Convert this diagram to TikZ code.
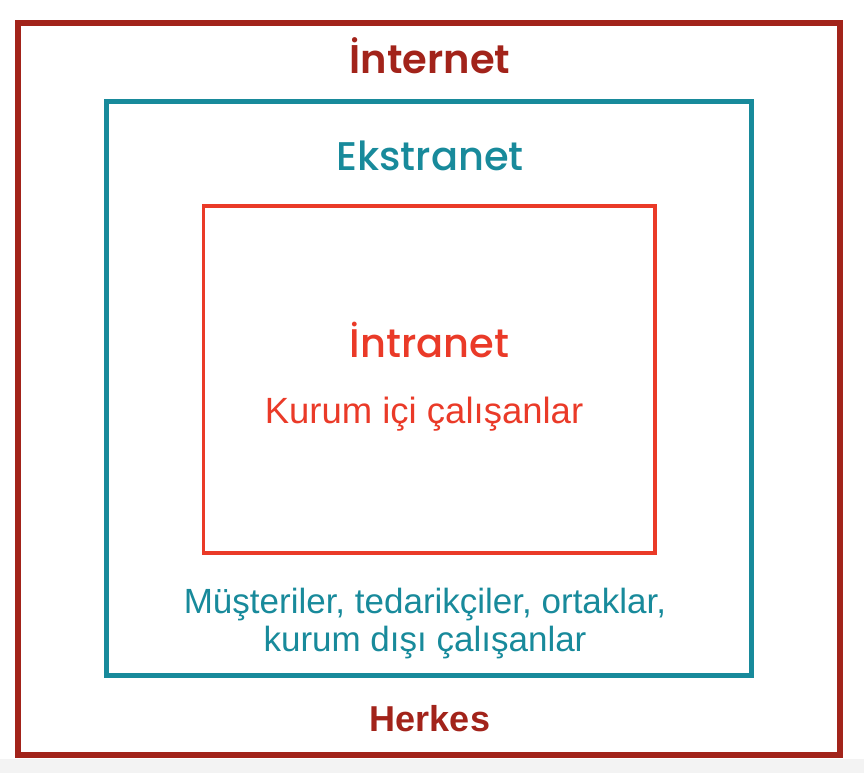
\documentclass[tikz,border=0pt]{standalone}
\usepackage{fontspec}
\setmainfont{Liberation Sans}
\newfontfamily\headfont{Poppins}[UprightFont=* Medium, BoldFont=* SemiBold]
\usetikzlibrary{positioning}

\definecolor{netred}{HTML}{A2231A}
\definecolor{extteal}{HTML}{188A9B}
\definecolor{intred}{HTML}{EA3A28}
\definecolor{stripgray}{HTML}{F3F3F3}

\begin{document}
\begin{tikzpicture}[x=1pt, y=-1pt,
    zone/.style={draw, rectangle, inner sep=0pt},
    title/.style={anchor=base, inner sep=0pt, font=\headfont\fontsize{40}{48}\selectfont},
    note/.style={anchor=base, inner sep=0pt, align=center, font=\fontsize{35}{38}\selectfont}]

  \useasboundingbox (0,0) rectangle (864,773);
  \fill[stripgray] (0,759) rectangle (864,773);

  % the three nested zones
  \node[zone, draw=netred, line width=6pt, minimum width=822pt, minimum height=731.5pt] (internet) at (429,388.75) {};
  \node[zone, draw=extteal, line width=5pt, minimum width=645pt, minimum height=574pt] (extranet) at (429,388.5) {};
  \node[zone, draw=intred, line width=3.5pt, minimum width=451.5pt, minimum height=347pt] (intranet) at (429.25,379.5) {};

  % titles
  \node[title, text=netred, font=\headfont\bfseries\fontsize{40}{48}\selectfont] (internettitle) at (430,74) {İnternet};
  \node[title, text=extteal] (extranettitle) at (430,170) {Ekstranet};
  \node[title, text=intred] (intranettitle) at (429.5,357) {İntranet};

  % who is in each zone
  \node[note, text=intred, font=\fontsize{36.5}{40}\selectfont] (intranetusers) at (424,423) {Kurum içi çalışanlar};
  \node[note, text=extteal, anchor=north] (extranetusers) at (425,588) {Müşteriler, tedarikçiler, ortaklar,\\kurum dışı çalışanlar};
  \node[note, text=netred, font=\bfseries\fontsize{36}{40}\selectfont] (internetusers) at (430,731) {Herkes};
\end{tikzpicture}
\end{document}
